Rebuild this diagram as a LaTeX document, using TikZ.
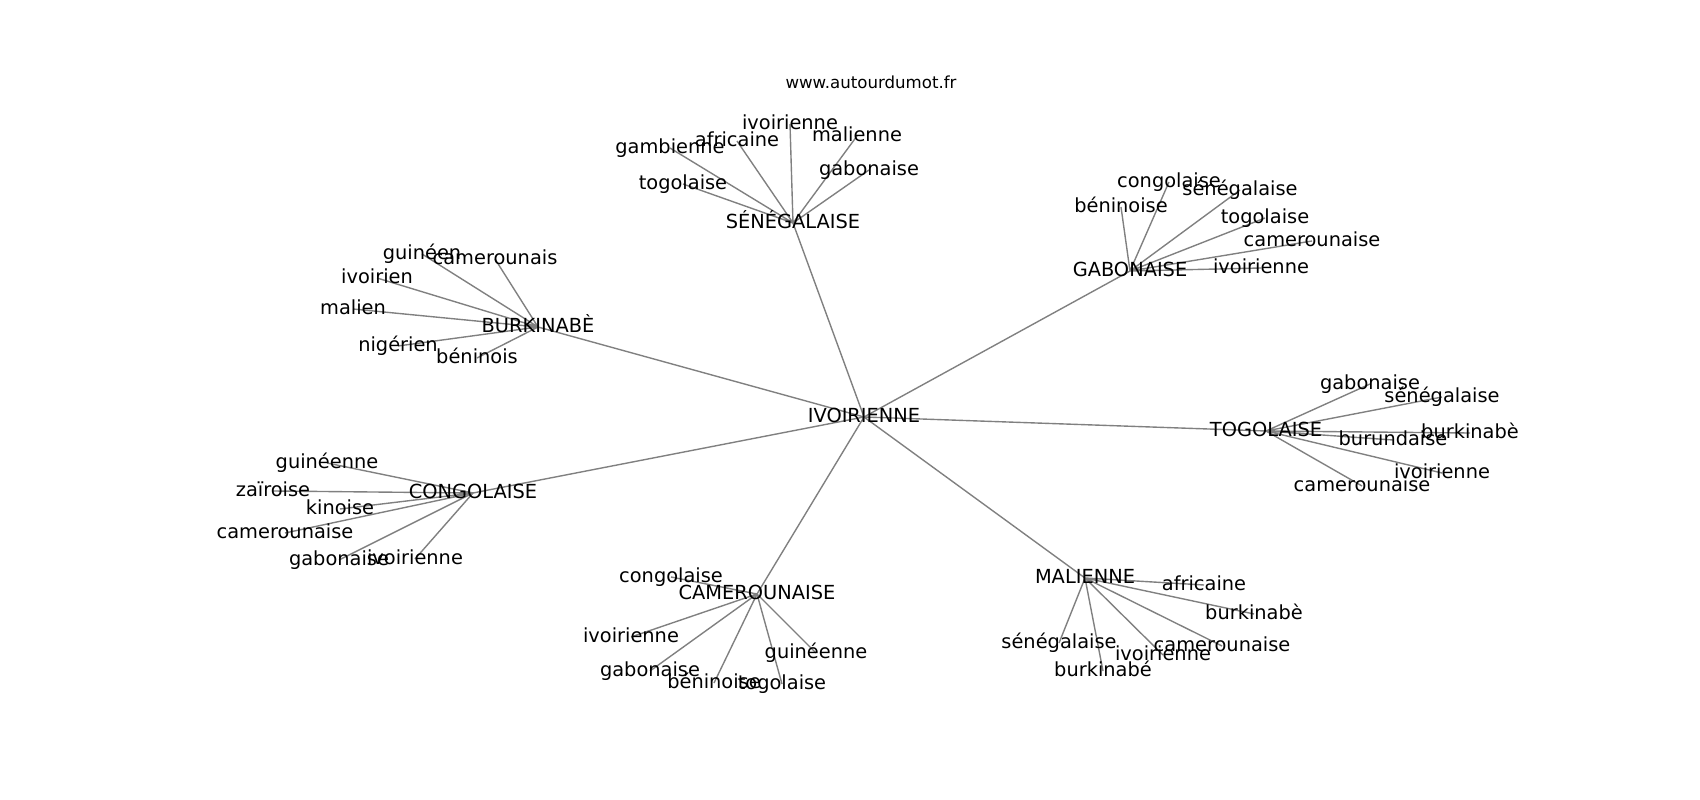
\documentclass[tikz,border=0pt]{standalone}
\usepackage{fontspec}
\setmainfont{DejaVu Sans}
\usetikzlibrary{backgrounds}
\tikzset{
	word/.style={inner sep=0pt, text height=1em, text depth=0.23em, font=\fontsize{14}{16}\selectfont},
	link/.style={draw=gray, line width=1pt},
}
\begin{document}
\begin{tikzpicture}[x=0.01in, y=-0.01in]

	\useasboundingbox (0,0) rectangle (1700,800);
	\node [inner sep=0pt, anchor=base, font=\fontsize{12}{14}\selectfont] (site) at (871,89) {www.autourdumot.fr};

	\node [word] (ivo) at (864,417) {IVOIRIENNE};
	\node [word] (sen) at (793,223) {SÉNÉGALAISE};
	\node [word] (gab) at (1130,271) {GABONAISE};
	\node [word] (tog) at (1266,431) {TOGOLAISE};
	\node [word] (bur) at (538,327) {BURKINABÈ};
	\node [word] (con) at (473,493) {CONGOLAISE};
	\node [word] (cam) at (757,594) {CAMEROUNAISE};
	\node [word] (mal) at (1085,578) {MALIENNE};

	\node [word] (sen1) at (790,124) {ivoirienne};
	\node [word] (sen2) at (737,141) {africaine};
	\node [word] (sen3) at (670,148) {gambienne};
	\node [word] (sen4) at (857,136) {malienne};
	\node [word] (sen5) at (869,170) {gabonaise};
	\node [word] (sen6) at (683,184) {togolaise};

	\node [word] (gab1) at (1169,182) {congolaise};
	\node [word] (gab2) at (1240,190) {sénégalaise};
	\node [word] (gab3) at (1121,207) {béninoise};
	\node [word] (gab4) at (1265,218) {togolaise};
	\node [word] (gab5) at (1312,241) {camerounaise};
	\node [word] (gab6) at (1261,268) {ivoirienne};

	\node [word] (tog1) at (1370,384) {gabonaise};
	\node [word] (tog2) at (1442,397) {sénégalaise};
	\node [word] (tog3) at (1470,433) {burkinabè};
	\node [word] (tog4) at (1393,440) {burundaise};
	\node [word] (tog5) at (1442,473) {ivoirienne};
	\node [word] (tog6) at (1362,486) {camerounaise};

	\node [word] (bur1) at (422,254) {guinéen};
	\node [word] (bur2) at (495,259) {camerounais};
	\node [word] (bur3) at (377,278) {ivoirien};
	\node [word] (bur4) at (353,309) {malien};
	\node [word] (bur5) at (398,346) {nigérien};
	\node [word] (bur6) at (477,358) {béninois};

	\node [word] (con1) at (327,463) {guinéenne};
	\node [word] (con2) at (273,491) {zaïroise};
	\node [word] (con3) at (340,509) {kinoise};
	\node [word] (con4) at (285,533) {camerounaise};
	\node [word] (con5) at (339,560) {gabonaise};
	\node [word] (con6) at (415,559) {ivoirienne};

	\node [word] (cam1) at (671,577) {congolaise};
	\node [word] (cam2) at (631,637) {ivoirienne};
	\node [word] (cam3) at (650,671) {gabonaise};
	\node [word] (cam4) at (714,683) {béninoise};
	\node [word] (cam5) at (782,684) {togolaise};
	\node [word] (cam6) at (816,653) {guinéenne};

	\node [word] (mal1) at (1204,585) {africaine};
	\node [word] (mal2) at (1254,614) {burkinabè};
	\node [word] (mal3) at (1059,643) {sénégalaise};
	\node [word] (mal4) at (1222,646) {camerounaise};
	\node [word] (mal5) at (1163,655) {ivoirienne};
	\node [word] (mal6) at (1103,671) {burkinabé};

	\begin{scope}[on background layer]
		\fill [white] (0,0) rectangle (1700,800);
		\draw [link] (ivo.center) -- (sen.center);
		\draw [link] (ivo.center) -- (gab.center);
		\draw [link] (ivo.center) -- (tog.center);
		\draw [link] (ivo.center) -- (bur.center);
		\draw [link] (ivo.center) -- (con.center);
		\draw [link] (ivo.center) -- (cam.center);
		\draw [link] (ivo.center) -- (mal.center);
		\draw [link] (sen.center) -- (sen1.center) (sen.center) -- (sen2.center) (sen.center) -- (sen3.center)
			(sen.center) -- (sen4.center) (sen.center) -- (sen5.center) (sen.center) -- (sen6.center);
		\draw [link] (gab.center) -- (gab1.center) (gab.center) -- (gab2.center) (gab.center) -- (gab3.center)
			(gab.center) -- (gab4.center) (gab.center) -- (gab5.center) (gab.center) -- (gab6.center);
		\draw [link] (tog.center) -- (tog1.center) (tog.center) -- (tog2.center) (tog.center) -- (tog3.center)
			(tog.center) -- (tog4.center) (tog.center) -- (tog5.center) (tog.center) -- (tog6.center);
		\draw [link] (bur.center) -- (bur1.center) (bur.center) -- (bur2.center) (bur.center) -- (bur3.center)
			(bur.center) -- (bur4.center) (bur.center) -- (bur5.center) (bur.center) -- (bur6.center);
		\draw [link] (con.center) -- (con1.center) (con.center) -- (con2.center) (con.center) -- (con3.center)
			(con.center) -- (con4.center) (con.center) -- (con5.center) (con.center) -- (con6.center);
		\draw [link] (cam.center) -- (cam1.center) (cam.center) -- (cam2.center) (cam.center) -- (cam3.center)
			(cam.center) -- (cam4.center) (cam.center) -- (cam5.center) (cam.center) -- (cam6.center);
		\draw [link] (mal.center) -- (mal1.center) (mal.center) -- (mal2.center) (mal.center) -- (mal3.center)
			(mal.center) -- (mal4.center) (mal.center) -- (mal5.center) (mal.center) -- (mal6.center);
	\end{scope}

\end{tikzpicture}
\end{document}
